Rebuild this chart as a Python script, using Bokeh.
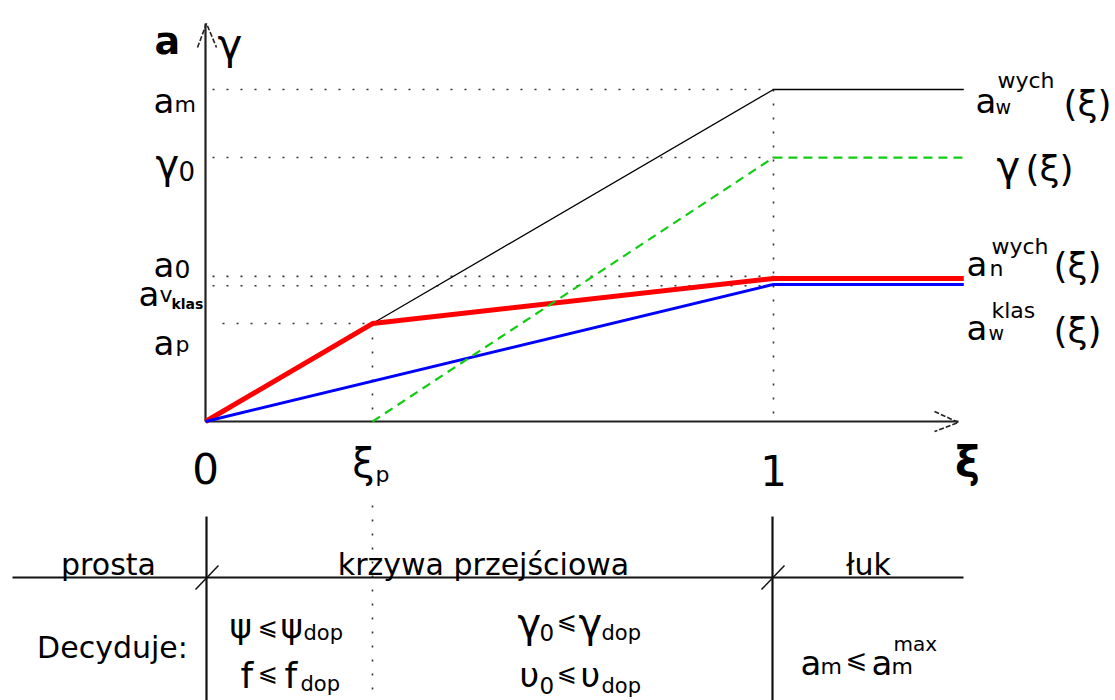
from bokeh.plotting import figure
from bokeh.models import Range1d
from bokeh.embed import file_html
from bokeh.resources import INLINE
from bokeh.core.properties import value

# ---------------- data ----------------
xi_p = 0.294        # end of "prosta" part on the xi axis
xi_1 = 1.0          # end of transition curve
xi_end = 1.335      # how far the curves run into the arc
a_m = 1.0
gamma_0 = 0.795
a_0 = 0.431
a_vklas = 0.413
a_p = 0.295

black_x = [0.0, xi_p, xi_1, xi_end]
black_y = [0.0, a_p, a_m, a_m]
red_x = [0.0, xi_p, xi_1, xi_end]
red_y = [0.0, a_p, a_0, a_0]
blue_x = [0.0, xi_1, xi_end]
blue_y = [0.0, a_vklas, a_vklas]
green_x = [xi_p, xi_1, xi_end]
green_y = [0.0, gamma_0, gamma_0]

section_names = ["prosta", "krzywa przejściowa", "łuk"]
decide_label = "Decyduje:"

FONT = "DejaVu Sans"
W, H = 1115, 700
OX, OY = 0, 0
PX0, PY0 = 205, 421    # screen position of origin
SX, SY = 568, 332      # pixels per unit


def X(px):
    return (px - PX0) / SX


def Y(py):
    return (PY0 - py) / SY


p = figure(width=W, height=H, output_backend="svg", toolbar_location=None,
           x_range=Range1d(X(OX), X(OX + W)), y_range=Range1d(Y(OY + H), Y(OY)),
           min_border=0, min_border_left=0, min_border_right=0,
           min_border_top=0, min_border_bottom=0)
p.xaxis.visible = False
p.yaxis.visible = False
p.grid.visible = False
p.outline_line_color = None
p.background_fill_color = "white"
p.border_fill_color = "white"

DOT = dict(line_color="#333333", line_width=1.6, line_dash="2 12")

# dotted guide lines
x_start = X(212)
p.line([x_start, xi_1], [a_m, a_m], **DOT)
p.line([x_start, xi_1], [gamma_0, gamma_0], **DOT)
p.line([x_start, xi_1], [a_0 + 0.006, a_0 + 0.006], **DOT)
p.line([x_start, xi_1], [a_vklas - 0.004, a_vklas - 0.004], **DOT)
p.line([X(222), xi_p], [a_p, a_p], **DOT)
p.line([xi_1, xi_1], [a_m, 0.0], **DOT)
p.line([xi_p, xi_p], [a_p, 0.0], **DOT)
p.line([xi_p, xi_p], [Y(505), Y(OY + H)], **DOT)

# axes
p.line([0.0, 0.0], [0.0, Y(23)], line_color="#222222", line_width=2.2)
p.line([0.0, X(958)], [0.0, 0.0], line_color="#222222", line_width=2.2)
p.line([X(197), X(206), X(216)], [Y(47), Y(23), Y(47)], line_color="#222222",
       line_width=1.6, line_dash="5 2")
p.line([X(934), X(958), X(934)], [Y(411), Y(422), Y(431)], line_color="#222222",
       line_width=1.6, line_dash="5 2")

# curves
p.line(black_x, black_y, line_color="black", line_width=1.3)
p.line(red_x, red_y, line_color="#ff0000", line_width=5)
p.line(blue_x, blue_y, line_color="#0000ff", line_width=3)
p.line(green_x, green_y, line_color="#11cc11", line_width=2.2, line_dash="9 6")

# table
p.line([X(12), X(963)], [Y(577), Y(577)], line_color="#111111", line_width=2.2)
p.line([X(206), X(206)], [Y(516), Y(OY + H)], line_color="#111111", line_width=2.2)
p.line([X(772), X(772)], [Y(516), Y(OY + H)], line_color="#111111", line_width=2.2)
p.line([X(195), X(218)], [Y(589), Y(565)], line_color="#111111", line_width=1.5)
p.line([X(761), X(784)], [Y(589), Y(565)], line_color="#111111", line_width=1.5)


def lab(t, x, y, size, bold=False, align="left"):
    p.text(x=[X(x)], y=[Y(y)], text=[t], text_font=value(FONT),
           text_font_size=f"{size}px", text_align=align,
           text_baseline="alphabetic",
           text_font_style="bold" if bold else "normal", text_color="black")


# axis titles
lab("a", 154, 40, 38, bold=True)
lab("γ", 217, 44, 42)

# left labels
lab("a", 153, 100, 34); lab("m", 174, 104, 22)
lab("γ", 155, 163, 40); lab("0", 178, 170, 26)
lab("a", 153, 264, 34); lab("0", 174, 268, 25)
lab("a", 138, 293, 34); lab("v", 159, 294, 22); lab("klas", 171, 303, 14, bold=True)
lab("a", 153, 342, 34); lab("p", 175, 344, 22)

# right labels
lab("a", 975, 100, 34); lab("w", 995, 106, 19); lab("wych", 997, 80, 22); lab("(ξ)", 1063, 103, 36)
lab("γ", 996, 165, 40); lab("(ξ)", 1025, 168, 36)
lab("a", 966, 263, 34); lab("n", 989, 268, 22); lab("wych", 991, 246, 22); lab("(ξ)", 1053, 265, 36)
lab("a", 966, 327, 34); lab("w", 988, 332, 19); lab("klas", 991, 310, 22); lab("(ξ)", 1053, 330, 36)

# xi axis labels
lab("0", PX0, 468, 42, align="center")
lab("ξ", 363, 462, 40, align="center"); lab("p", 375, 474, 22)
lab("1", 773, 470, 42, align="center")
lab("ξ", 967, 462, 42, bold=True, align="center")

# table texts
lab(section_names[0], 108, 564, 30, align="center")
lab(section_names[1], 483, 564, 30, align="center")
lab(section_names[2], 868, 564, 30, align="center")
lab(decide_label, 112, 647, 30, align="center")

lab("ψ", 229, 625, 34); lab("⩽", 257, 626, 24); lab("ψ", 280, 625, 34); lab("dop", 303, 632, 21)
lab("f", 240, 675, 36); lab("⩽", 257, 672, 24); lab("f", 284, 675, 36); lab("dop", 300, 683, 21)
lab("γ", 517, 622, 40); lab("0", 539, 632, 23); lab("⩽", 556, 620, 24); lab("γ", 578, 622, 40); lab("dop", 601, 632, 21)
lab("υ", 519, 674, 34); lab("0", 539, 685, 23); lab("⩽", 556, 672, 24); lab("υ", 580, 674, 34); lab("dop", 601, 685, 21)
lab("a", 800, 662, 34); lab("m", 820, 666, 22); lab("⩽", 845, 658, 26); lab("a", 871, 662, 34); lab("m", 891, 666, 22); lab("max", 893, 643, 20)

open("out.html", "w").write(file_html(p, INLINE))
